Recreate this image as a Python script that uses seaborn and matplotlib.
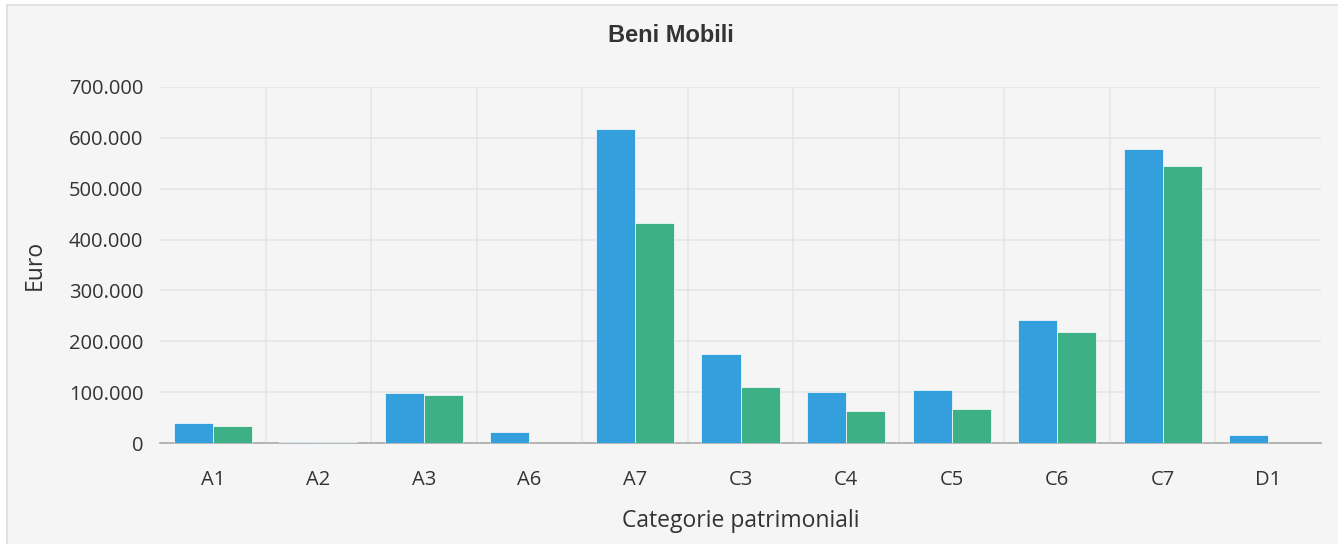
import numpy as np
import pandas as pd
import matplotlib.pyplot as plt
import seaborn as sns
from matplotlib.patches import Rectangle
from matplotlib.ticker import FuncFormatter, MultipleLocator

# Data (euro)
categories = ["A1", "A2", "A3", "A6", "A7", "C3", "C4", "C5", "C6", "C7", "D1"]
serie_1 = [40000, 3200, 98000, 22000, 617000, 175000, 100000, 104500, 242500, 578000, 15500]
serie_2 = [34500, 2600, 95000, 0, 433000, 111000, 63000, 67000, 218000, 544000, 0]
series_names = ["Serie 1", "Serie 2"]

BG = "#f5f5f5"
GRID = "#e2e5ea"
COLORS = ["#339fdc", "#3db185"]

df = pd.DataFrame({
    "categoria": categories * 2,
    "euro": serie_1 + serie_2,
    "serie": [series_names[0]] * len(categories) + [series_names[1]] * len(categories),
})

sns.set_theme(style="white")
plt.rcParams["font.family"] = ["Open Sans", "DejaVu Sans"]

fig = plt.figure(figsize=(13.38, 5.44), dpi=100, facecolor="white")
# panel background with thin border (top/left visible in the reference)
fig.patches.append(Rectangle((7 / 1338, -0.1), 1.2, 1 - 5 / 544 + 0.1,
                             transform=fig.transFigure, facecolor=BG,
                             edgecolor="#dcdcdc", linewidth=1.2, zorder=-5))

ax = fig.add_axes([160 / 1338, 1 - 443.3 / 544, (1321 - 160) / 1338, (443.3 - 86.7) / 544])
ax.set_facecolor(BG)

sns.barplot(data=df, x="categoria", y="euro", hue="serie", order=categories,
            palette=COLORS, saturation=1, width=0.74, edgecolor="white", linewidth=0.5,
            legend=False, ax=ax, zorder=3)

# empty bars should not leave a white edge on the baseline
for bar in ax.patches:
    if bar.get_height() == 0:
        bar.set_linewidth(0)

ax.set_ylim(0, 700000)
ax.set_xlim(-0.5, len(categories) - 0.5)
ax.yaxis.set_major_locator(MultipleLocator(100000))
ax.yaxis.set_major_formatter(FuncFormatter(lambda v, p: f"{int(v):,}".replace(",", ".")))

# grid lines between categories, like the original (none at the outer edges)
ax.set_xticks(np.arange(0.5, len(categories) - 1, 1), minor=True)
ax.grid(axis="x", which="minor", color=GRID, linewidth=1.1, zorder=0)
ax.grid(axis="y", which="major", color=GRID, linewidth=1.1, zorder=0)
ax.set_axisbelow(True)
ax.tick_params(axis="x", which="both", length=0, pad=19, labelsize=14.5, colors="#333333")
ax.tick_params(axis="y", length=0, pad=12, labelsize=14.5, colors="#333333")

for side in ["left", "right", "top"]:
    ax.spines[side].set_visible(False)
ax.spines["bottom"].set_color("#b0b0b0")
ax.spines["bottom"].set_linewidth(1.3)
ax.spines["bottom"].set_zorder(2)

ax.set_xlabel("Categorie patrimoniali", fontsize=16.5, color="#333333", labelpad=14)
ax.set_ylabel("Euro", fontsize=16.5, color="#333333", labelpad=16)
fig.text(671 / 1338, 1 - 35 / 544, "Beni Mobili", ha="center", va="center",
         fontsize=17, fontweight="bold", color="#333333", family=["Liberation Sans", "DejaVu Sans"])

fig.savefig("out.png", dpi=100, facecolor="white")
